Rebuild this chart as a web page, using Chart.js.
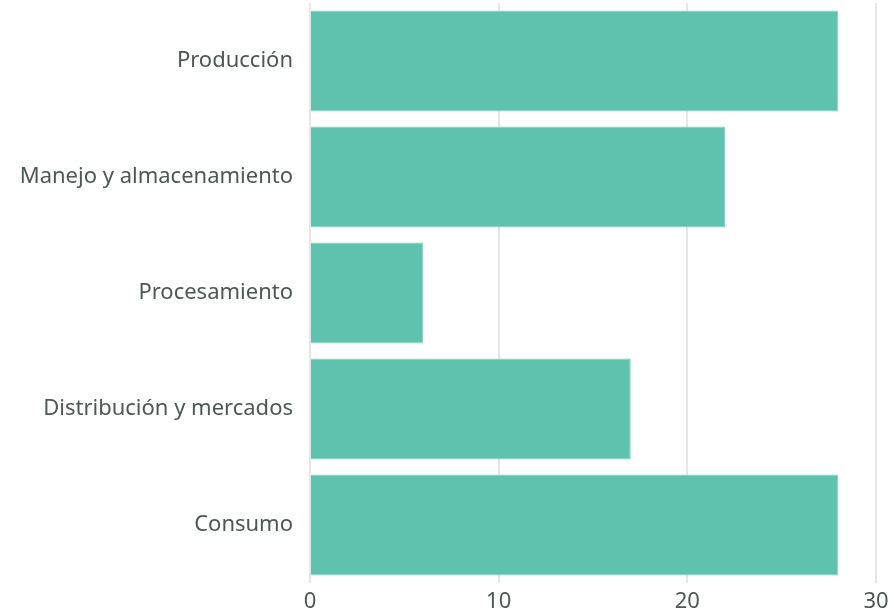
<!DOCTYPE html>
<html>
<head>
<meta charset="utf-8">
<script src="https://cdn.jsdelivr.net/npm/chart.js@4"></script>
<style>
  html, body { margin: 0; padding: 0; background: #fff; }
  #wrap { width: 892px; height: 610px; }
</style>
</head>
<body>
<div id="wrap"><canvas id="myChart" width="892" height="610"></canvas></div>
<script>
const etapas = ["Producción", "Manejo y almacenamiento", "Procesamiento", "Distribución y mercados", "Consumo"];
const valores = [28, 22, 6, 17, 28];
const ticksX = [0, 10, 20, 30];

const colorTexto = "#4b5853";
const fuente = { family: "'Noto Sans', 'Open Sans', sans-serif", size: 22 };

const myChart = document.getElementById("myChart");
myChart.chart = new Chart(myChart, {
  type: "bar",
  data: {
    labels: etapas,
    datasets: [
      {
        data: valores,
        backgroundColor: "#5fc2ae",
        borderColor: "#7fd0bf",
        borderWidth: 1,
        categoryPercentage: 1,
        barPercentage: 0.87,
      },
    ],
  },
  options: {
    indexAxis: "y",
    responsive: false,
    animation: false,
    layout: { padding: { top: 3, right: 0, bottom: 0, left: 0 } },
    plugins: { legend: { display: false }, tooltip: { enabled: false } },
    scales: {
      x: {
        min: 0,
        max: 30,
        afterBuildTicks: (scale) => {
          scale.ticks = ticksX.map((v) => ({ value: v }));
        },
        grid: { color: "#e6e6e6", lineWidth: 2, drawTicks: false },
        border: { display: false },
        ticks: { color: colorTexto, font: fuente, padding: 6 },
        afterFit: (scale) => {
          scale.height = 27;
          scale.paddingLeft = 0;
          scale.paddingRight = 16;
        },
      },
      y: {
        grid: { display: false },
        border: { display: false },
        ticks: { color: colorTexto, font: fuente, padding: 9 },
        afterFit: (scale) => {
          scale.width = 310;
          scale.paddingTop = 0;
          scale.paddingBottom = 0;
        },
      },
    },
  },
});
</script>
</body>
</html>
